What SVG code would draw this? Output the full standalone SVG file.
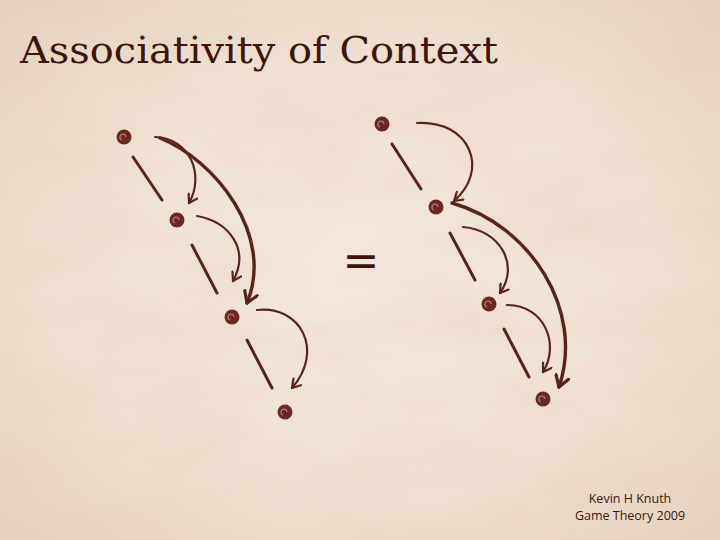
<svg xmlns="http://www.w3.org/2000/svg" width="720" height="540" viewBox="0 0 720 540">
  <defs>
    <radialGradient id="paper" cx="50%" cy="50%" r="70%">
      <stop offset="0" stop-color="#f3e8de"/>
      <stop offset="0.6" stop-color="#efe0d1"/>
      <stop offset="1" stop-color="#e6d1bd"/>
    </radialGradient>
    <filter id="grain" x="0" y="0" width="100%" height="100%">
      <feTurbulence type="fractalNoise" baseFrequency="0.008 0.02" numOctaves="4" seed="7" result="n"/>
      <feColorMatrix in="n" type="matrix" values="0 0 0 0 0.80  0 0 0 0 0.62  0 0 0 0 0.50  0 0 0 1.3 -0.45"/>
    </filter>
    <marker id="head" viewBox="0 0 12 12" refX="9" refY="6" markerWidth="12" markerHeight="12" markerUnits="userSpaceOnUse" orient="auto">
      <path d="M1,1 L9,6 L1,11" fill="none" stroke="#5a2419" stroke-width="2.2" stroke-linecap="round" stroke-linejoin="round"/>
    </marker>
    <marker id="headBig" viewBox="0 0 16 16" refX="12" refY="8" markerWidth="16" markerHeight="16" markerUnits="userSpaceOnUse" orient="auto">
      <path d="M1,1 L12,8 L1,15" fill="none" stroke="#5a2419" stroke-width="3.2" stroke-linecap="round" stroke-linejoin="round"/>
    </marker>
    <style>
      .title { font-family: "DejaVu Serif", "Liberation Serif", serif; font-size: 38px; fill: #3f140c; }
      .foot { font-family: "Open Sans", "Liberation Sans", sans-serif; font-size: 12.5px; fill: #3a1a10; text-anchor: middle; }
      .eq { font-family: "DejaVu Sans", "Liberation Sans", sans-serif; font-size: 44px; fill: #3f140c; text-anchor: middle; }
      .node { fill: #6a2820; }
      .swirl { fill: none; stroke: #b0776a; stroke-width: 1.3; }
      .seg { stroke: #5a2419; stroke-width: 3; stroke-linecap: round; fill: none; }
      .arc { stroke: #5a2419; stroke-width: 2.2; fill: none; stroke-linecap: round; marker-end: url(#head); }
      .arcBig { stroke: #5a2419; stroke-width: 3.4; fill: none; stroke-linecap: round; marker-end: url(#headBig); }
    </style>
  </defs>

  <rect width="720" height="540" fill="url(#paper)"/>
  <rect width="720" height="540" filter="url(#grain)" opacity="0.45"/>

  <text class="title" x="20" y="63" textLength="478" lengthAdjust="spacingAndGlyphs">Associativity of Context</text>

  <text class="eq" x="361" y="276">=</text>

  <g id="connectors">
    <!-- left diagram -->
    <line class="seg" x1="133" y1="157" x2="162" y2="200"/>
    <line class="seg" x1="192" y1="245" x2="217" y2="293"/>
    <line class="seg" x1="247" y1="340" x2="272" y2="388"/>
    <path class="arc" d="M155,137 C190,138 205,175 189,203"/>
    <path class="arcBig" d="M160,138 C215,160 275,235 247,303"/>
    <path class="arc" d="M197,216 C230,222 250,250 233,281"/>
    <path class="arc" d="M257,310 C300,305 325,350 292,388"/>
    <!-- right diagram -->
    <line class="seg" x1="392" y1="144" x2="421" y2="189"/>
    <line class="seg" x1="450" y1="233" x2="475" y2="280"/>
    <line class="seg" x1="504" y1="329" x2="529" y2="377"/>
    <path class="arc" d="M417,123 C470,120 490,170 454,201"/>
    <path class="arcBig" d="M452,203 C530,225 585,310 559,387"/>
    <path class="arc" d="M463,227 C500,230 520,265 500,293"/>
    <path class="arc" d="M507,305 C545,305 560,345 543,372"/>
  </g>

  <g id="L1"><circle class="node" cx="124" cy="137" r="7.5"/><path class="swirl" d="M122,140 a3,3 0 1 1 4,-3"/></g>
  <g id="L2"><circle class="node" cx="177" cy="220" r="7.5"/><path class="swirl" d="M175,223 a3,3 0 1 1 4,-3"/></g>
  <g id="L3"><circle class="node" cx="232" cy="317" r="7.5"/><path class="swirl" d="M230,320 a3,3 0 1 1 4,-3"/></g>
  <g id="L4"><circle class="node" cx="285" cy="412" r="7.5"/><path class="swirl" d="M283,415 a3,3 0 1 1 4,-3"/></g>
  <g id="R1"><circle class="node" cx="382" cy="124" r="7.5"/><path class="swirl" d="M380,127 a3,3 0 1 1 4,-3"/></g>
  <g id="R2"><circle class="node" cx="436" cy="207" r="7.5"/><path class="swirl" d="M434,210 a3,3 0 1 1 4,-3"/></g>
  <g id="R3"><circle class="node" cx="489" cy="304" r="7.5"/><path class="swirl" d="M487,307 a3,3 0 1 1 4,-3"/></g>
  <g id="R4"><circle class="node" cx="543" cy="399" r="7.5"/><path class="swirl" d="M541,402 a3,3 0 1 1 4,-3"/></g>

  <text class="foot" x="630" y="503">Kevin H Knuth</text>
  <text class="foot" x="630" y="520">Game Theory 2009</text>
</svg>
